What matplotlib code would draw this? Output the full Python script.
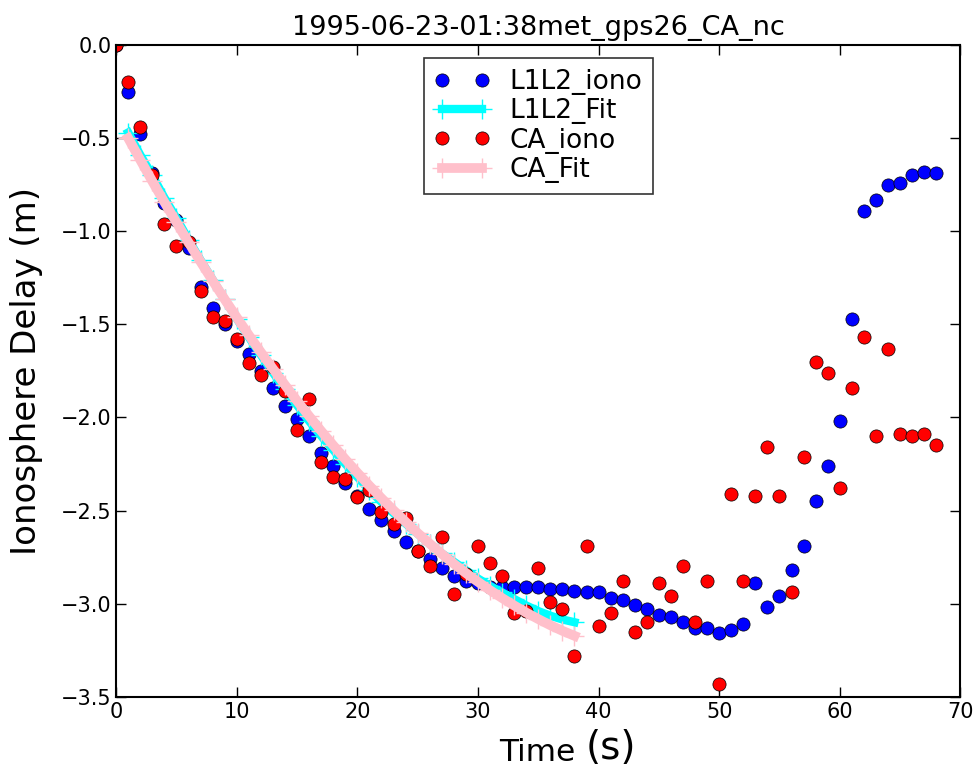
import matplotlib
matplotlib.use("Agg")
import matplotlib.pyplot as plt

# sample index (s)
time_s = list(range(69))

l1l2_iono = [0.0, -0.25, -0.48, -0.69, -0.85, -0.94, -1.09, -1.30, -1.41, -1.50,
             -1.59, -1.66, -1.75, -1.84, -1.94, -2.01, -2.10, -2.19, -2.26, -2.35,
             -2.42, -2.49, -2.55, -2.61, -2.67, -2.72, -2.76, -2.81, -2.85, -2.88,
             -2.89, -2.91, -2.91, -2.91, -2.91, -2.91, -2.92, -2.92, -2.93, -2.94,
             -2.94, -2.97, -2.98, -3.01, -3.03, -3.06, -3.07, -3.10, -3.13, -3.13,
             -3.16, -3.14, -3.11, -2.89, -3.02, -2.96, -2.82, -2.69, -2.45, -2.26,
             -2.02, -1.47, -0.89, -0.83, -0.75, -0.74, -0.70, -0.68, -0.69]

ca_iono = [0.0, -0.20, -0.44, -0.70, -0.96, -1.08, -1.06, -1.32, -1.46, -1.48,
           -1.58, -1.71, -1.77, -1.73, -1.86, -2.07, -1.90, -2.24, -2.32, -2.33,
           -2.43, -2.39, -2.51, -2.57, -2.54, -2.72, -2.80, -2.64, -2.95, -2.84,
           -2.69, -2.78, -2.85, -3.05, -3.04, -2.81, -2.99, -3.03, -3.28, -2.69,
           -3.12, -3.05, -2.88, -3.15, -3.10, -2.89, -2.96, -2.80, -3.10, -2.88,
           -3.43, -2.41, -2.88, -2.42, -2.16, -2.42, -2.94, -2.21, -1.70, -1.76,
           -2.38, -1.84, -1.57, -2.10, -1.63, -2.09, -2.10, -2.09, -2.15]

fit_time = list(range(1, 39))

l1l2_fit = [-0.47, -0.59, -0.70, -0.82, -0.93, -1.045, -1.155, -1.26, -1.366, -1.47,
            -1.57, -1.665, -1.76, -1.85, -1.935, -2.02, -2.10, -2.175, -2.25, -2.32,
            -2.39, -2.455, -2.515, -2.57, -2.625, -2.68, -2.73, -2.775, -2.82, -2.865,
            -2.905, -2.94, -2.975, -3.01, -3.04, -3.065, -3.085, -3.10]

ca_fit = [-0.500, -0.617, -0.732, -0.844, -0.953, -1.060, -1.164, -1.266, -1.366, -1.463,
          -1.558, -1.650, -1.739, -1.826, -1.911, -1.993, -2.073, -2.150, -2.225, -2.297,
          -2.367, -2.434, -2.499, -2.561, -2.621, -2.678, -2.733, -2.786, -2.836, -2.883,
          -2.928, -2.970, -3.010, -3.048, -3.083, -3.116, -3.146, -3.173]

fig = plt.figure(figsize=(9.76, 7.69), dpi=100)
ax = fig.add_axes([0.119, 0.094, 0.865, 0.8475])

ax.plot(time_s, l1l2_iono, "o", color="blue", markeredgecolor="black",
        markeredgewidth=0.5, markersize=9.5, label="L1L2_iono")
ax.plot(fit_time, l1l2_fit, "+-", color="cyan", linewidth=6,
        markersize=14, markeredgewidth=1, label="L1L2_Fit")
ax.plot(time_s, ca_iono, "o", color="red", markeredgecolor="black",
        markeredgewidth=0.5, markersize=9.5, label="CA_iono")
ax.plot(fit_time, ca_fit, "+-", color="pink", linewidth=7,
        markersize=14, markeredgewidth=1, label="CA_Fit")

ax.set_xlim(0, 70)
ax.set_ylim(-3.5, 0.0)
ax.set_xticks(range(0, 71, 10))
ax.set_yticks([-3.5, -3.0, -2.5, -2.0, -1.5, -1.0, -0.5, 0.0])
ax.tick_params(direction="in", top=True, right=True, length=7, width=1,
               labelsize=15)
for s in ax.spines.values():
    s.set_linewidth(1.5)

ax.set_title("1995-06-23-01:38met_gps26_CA_nc", fontsize=19.5, pad=7)
ax.set_ylabel("Ionosphere Delay (m)", fontsize=24.5)
ax.yaxis.set_label_coords(-0.087, 0.5)

# x label: "Time" followed by a larger "(s)"
fig.text(0.590, 0.011, "Time", fontsize=22.5, ha="right", va="baseline")
fig.text(0.600, 0.002, "(s)", fontsize=28, ha="left", va="bottom")

leg = ax.legend(loc="upper center", numpoints=2, fontsize=19,
                borderaxespad=0.5, handlelength=2.12, labelspacing=0.13,
                handletextpad=0.72, fancybox=False,
                bbox_to_anchor=(0.5, 1.0))
leg.get_frame().set_edgecolor("black")
leg.get_frame().set_linewidth(1.2)

fig.savefig("out.png", dpi=100)
